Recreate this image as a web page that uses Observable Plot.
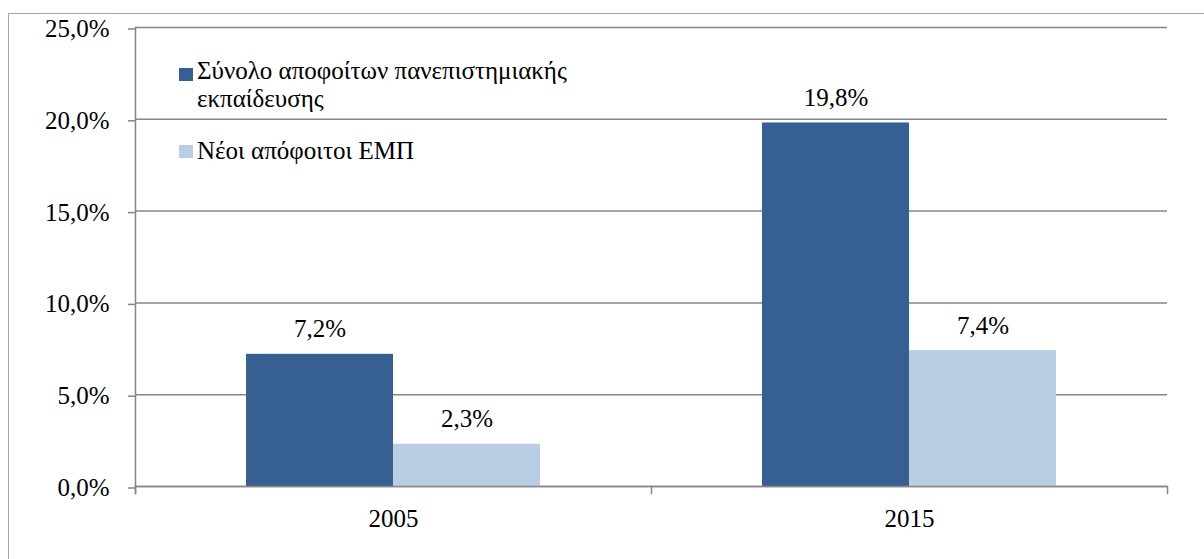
<!DOCTYPE html>
<html><head><meta charset="utf-8">
<script src="https://cdn.jsdelivr.net/npm/d3@7"></script>
<script src="https://cdn.jsdelivr.net/npm/@observablehq/plot@0.6"></script>
<style>
body{margin:0;background:#fff;font-family:"Liberation Serif",serif;}
#wrap{position:relative;width:1204px;height:559px;}
#wrap svg{display:block;}
#border{position:absolute;left:7.5px;top:12.5px;width:1196px;height:546px;border-left:1.5px solid #a6a6a6;border-top:1.5px solid #a6a6a6;pointer-events:none;}
#wrap svg text{font-family:"Liberation Serif",serif !important;}
.leg{position:absolute;left:197px;font-family:"Liberation Serif",serif;font-size:25px;line-height:28px;color:#000;white-space:pre;}
.sw{position:absolute;left:179px;width:14px;height:13px;}
</style></head><body><div id="wrap"></div>
<script>
const years = ["2005", "2015"];
const seriesNames = ["Σύνολο αποφοίτων πανεπιστημιακής εκπαίδευσης", "Νέοι απόφοιτοι ΕΜΠ"];
const legendLabels = ["Σύνολο αποφοίτων πανεπιστημιακής\nεκπαίδευσης", "Νέοι απόφοιτοι ΕΜΠ"];
const totalGraduates = [7.2, 19.8];
const newGraduatesEMP = [2.3, 7.4];
const yTicks = [0, 5, 10, 15, 20, 25];
const colors = ["#376092", "#B9CDE5"];

const rows = years.flatMap((year, i) => [
  {year, series: seriesNames[0], value: totalGraduates[i]},
  {year, series: seriesNames[1], value: newGraduatesEMP[i]}
]);
const fmt = v => v.toFixed(1).replace(".", ",") + "%";
const font = "Liberation Serif";
const grey = "#868686";
const fs = 25;

const chart = Plot.plot({
  width: 1204, height: 559,
  marginLeft: 135, marginRight: 37, marginTop: 27, marginBottom: 73,
  style: {fontFamily: font, fontSize: "25px"},
  fx: {domain: years, paddingInner: 0, paddingOuter: 0, label: null},
  x: {domain: seriesNames, paddingInner: 0, paddingOuter: 0.749, axis: null},
  y: {domain: [0, 25], label: null},
  color: {domain: seriesNames, range: colors},
  marks: [
    Plot.gridY(yTicks, {stroke: grey, strokeOpacity: 1, strokeWidth: 1.5}),
    Plot.axisY(yTicks, {tickSize: 7, tickPadding: 19, tickFormat: fmt, stroke: grey, strokeWidth: 1.5, fill: "#000", fontSize: fs, fontFamily: font, label: null, dy: 1.5}),
    Plot.barY(rows, {fx: "year", x: "series", y: "value", fill: "series"}),
    Plot.ruleY([0], {stroke: grey, strokeWidth: 1.5}),
    Plot.frame({anchor: "left", facetAnchor: "left", insetBottom: -7, stroke: grey, strokeWidth: 1.5}),
    Plot.frame({anchor: "left", insetTop: 459, insetBottom: -7, stroke: grey, strokeWidth: 1.5}),
    Plot.frame({anchor: "right", facetAnchor: "right", insetTop: 459, insetBottom: -7, stroke: grey, strokeWidth: 1.5}),
    Plot.axisFx({anchor: "bottom", tickSize: 0, tickPadding: 23, fontSize: fs, fontFamily: font, fill: "#000", label: null}),
    Plot.text(rows, {fx: "year", x: "series", y: "value", text: d => fmt(d.value), lineAnchor: "bottom", dy: -17, fontSize: fs, fontFamily: font, fill: "#000"})
  ]
});
const wrap = document.getElementById("wrap");
wrap.appendChild(chart);

// legend (HTML, built from the series arrays)
const legendTops = [57, 136.5];
const swatchTops = [68, 145];
legendLabels.forEach((label, i) => {
  const sw = document.createElement("div");
  sw.className = "sw";
  sw.style.top = swatchTops[i] + "px";
  sw.style.background = colors[i];
  wrap.appendChild(sw);
  const t = document.createElement("div");
  t.className = "leg";
  t.style.top = legendTops[i] + "px";
  t.textContent = label;
  wrap.appendChild(t);
});

const border = document.createElement("div");
border.id = "border";
wrap.appendChild(border);
</script></body></html>
